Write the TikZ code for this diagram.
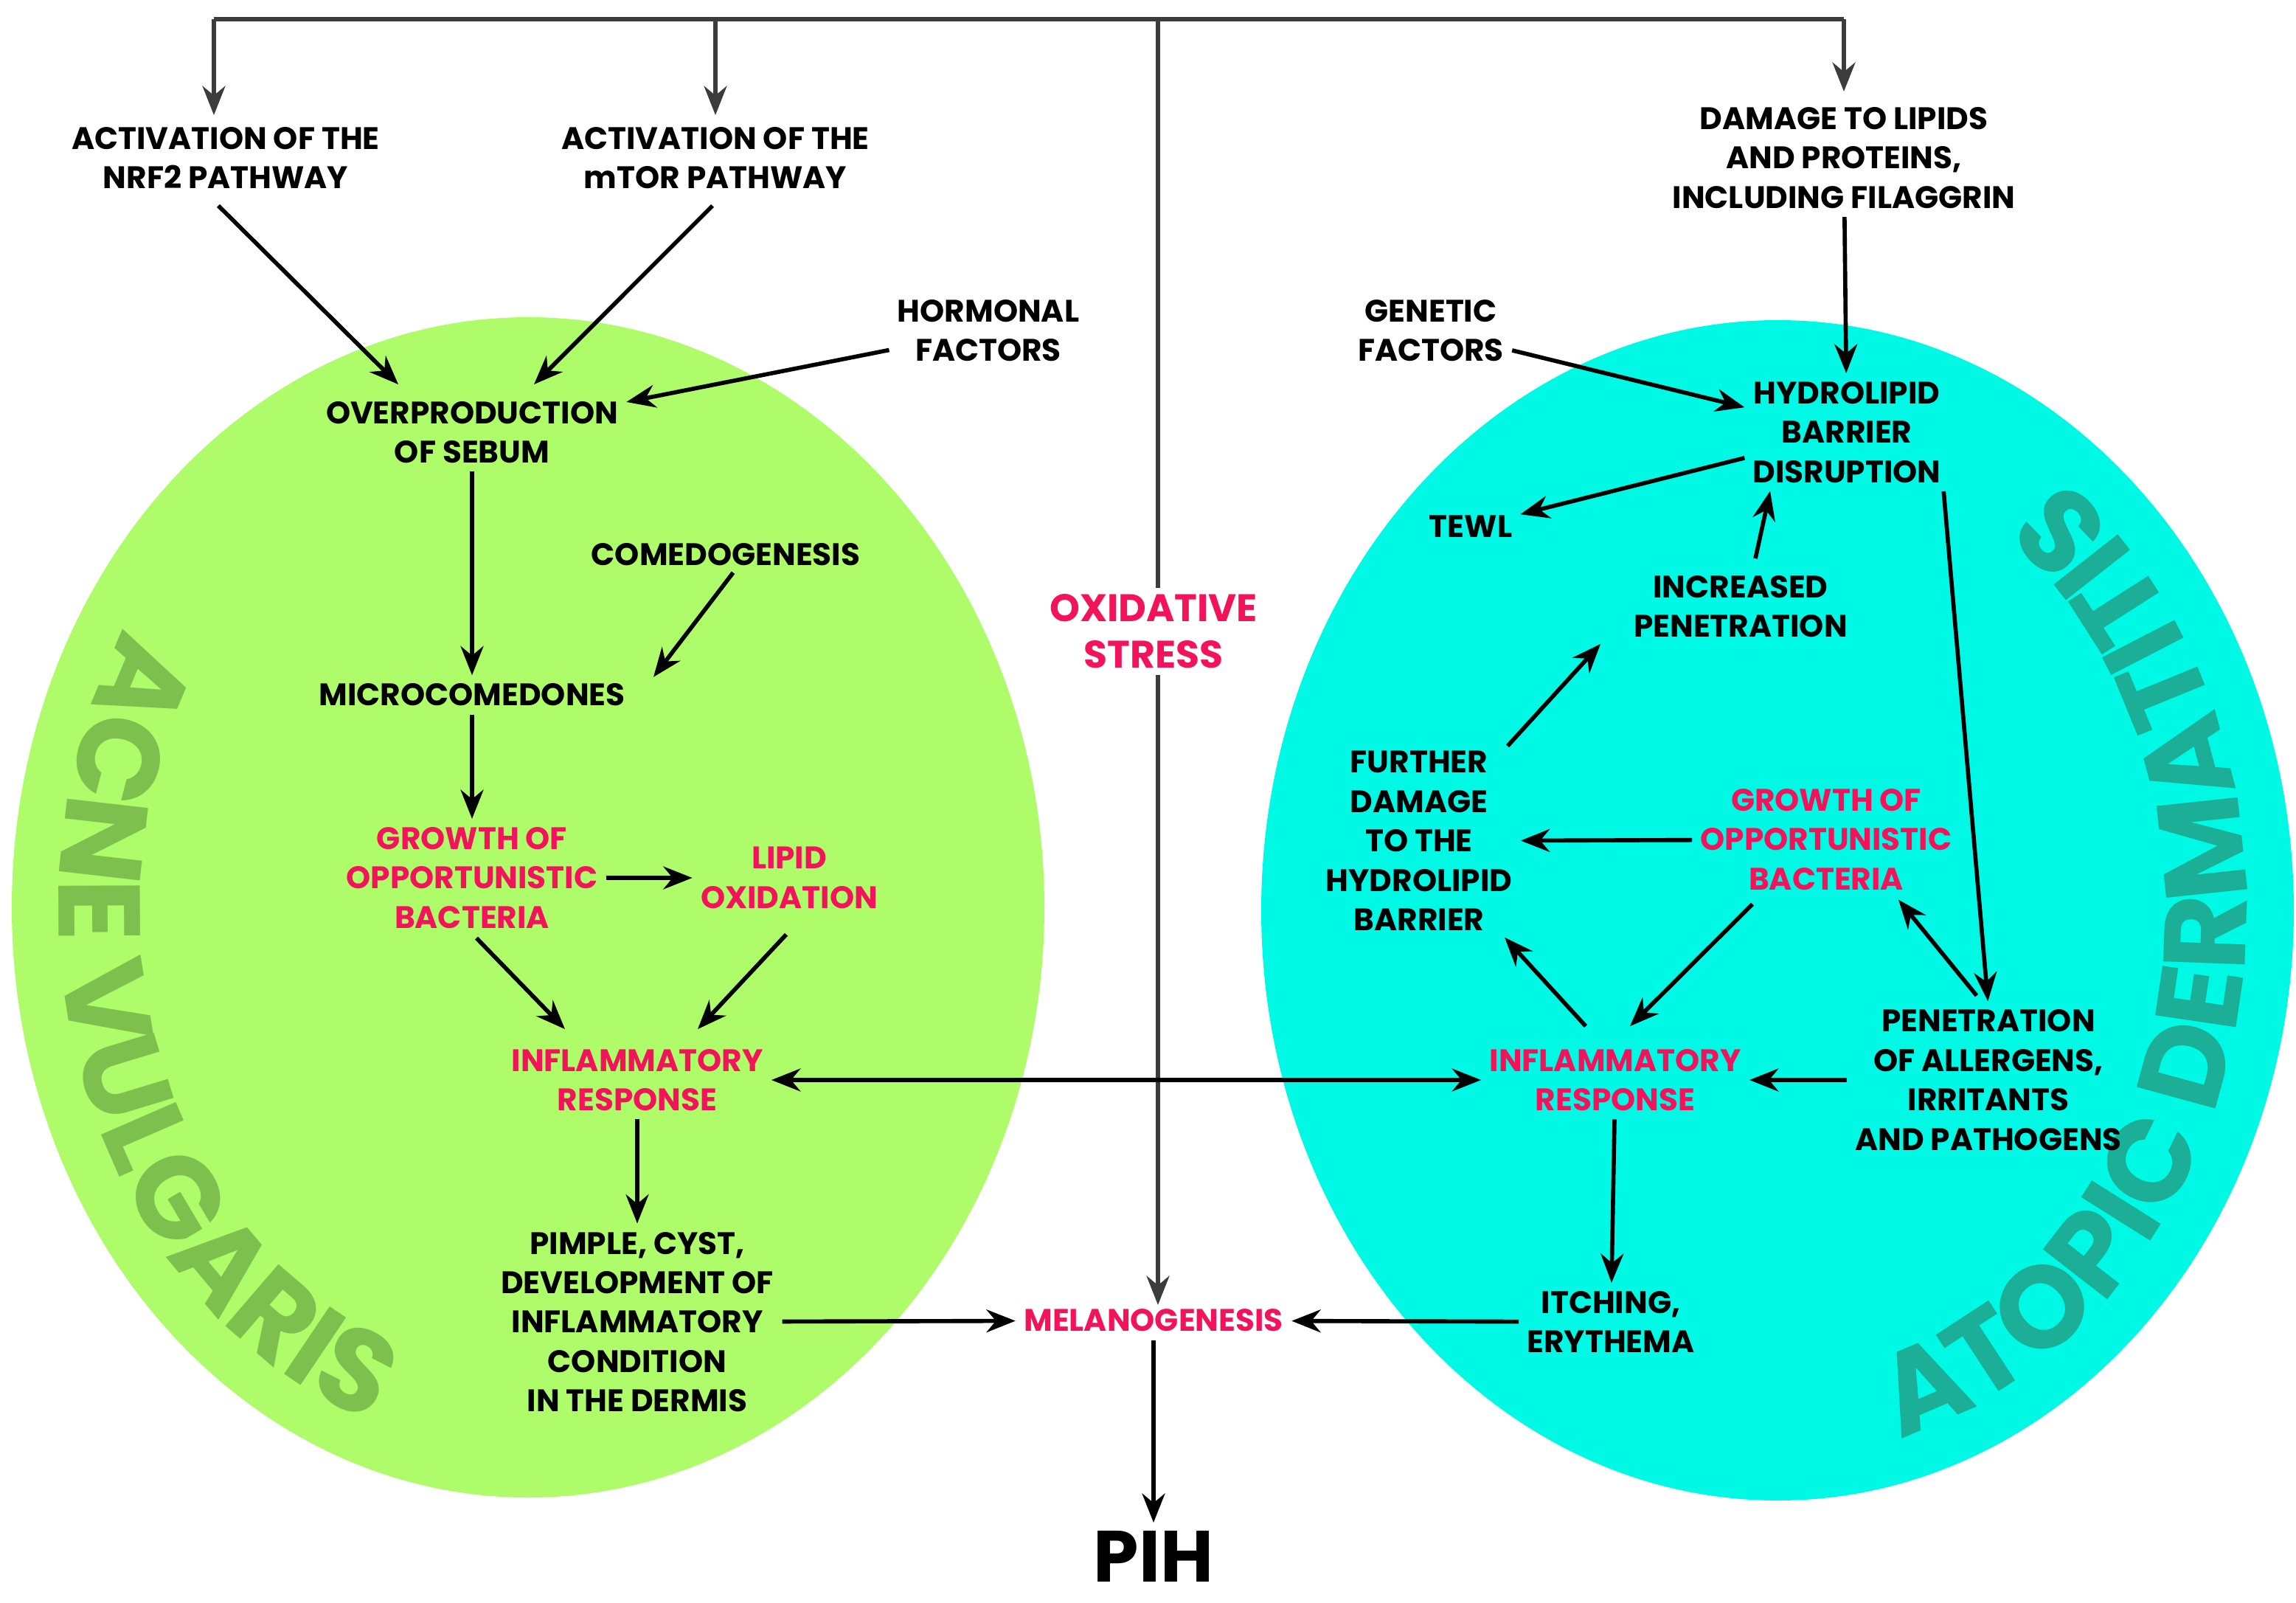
\documentclass[tikz,border=0pt]{standalone}
\usepackage{fontspec}
\setmainfont{Poppins}
\usetikzlibrary{arrows.meta,decorations.text}
\definecolor{grn}{HTML}{AEFC6A}
\definecolor{cyn}{HTML}{00F9E4}
\definecolor{grnT}{HTML}{7DC04E}
\definecolor{cynT}{HTML}{1BAF98}
\definecolor{rd}{HTML}{F2135A}
\definecolor{gl}{HTML}{3C3C3C}
\begin{document}
\begin{tikzpicture}[x=0.05cm,y=-0.05cm,
  t/.style={align=center,font=\bfseries\fontsize{30}{38}\selectfont,inner sep=2pt},
  r/.style={t,text=rd},
  ar/.style={line width=4pt,-{Stealth[length=28pt,width=22pt]},shorten >=6pt,shorten <=6pt},
  ex/.style={ar,shorten >=0pt,shorten <=0pt},
  gar/.style={ar,draw=gl}]
\useasboundingbox (0,0) rectangle (1556.5,1086);
\fill[grn] (358,615) ellipse [x radius=350,y radius=400];
\fill[cyn] (1205,617) ellipse [x radius=350,y radius=400];
\path[decorate,decoration={text along path,text align=center,text format delimiters={|}{|},
  text={|\bfseries\fontsize{112}{112}\selectfont\color{grnT}|ACNE VULGARIS}}]
  (358,615) ++(145:318 and -370) arc[start angle=145,end angle=255,x radius=318,y radius=-370];
\path[decorate,decoration={text along path,text align=center,text format delimiters={|}{|},
  text={|\bfseries\fontsize{112}{112}\selectfont\color{cynT}|ATOPIC DERMATITIS}}]
  (1205,617) ++(-85:318 and -370) arc[start angle=-85,end angle=62,x radius=318,y radius=-370];
% top distribution line
\coordinate (tl) at (145,13); \coordinate (tr) at (1250,13);
\coordinate (tm) at (785,13); \coordinate (tb) at (485,13);
\coordinate (an) at (145,78); \coordinate (am) at (485,78); \coordinate (ad) at (1250,62);
\draw[line width=4pt,gl] (tl) -- (tr);
\draw[gar,shorten <=0pt,shorten >=0pt] (tl) -- (an);
\draw[gar,shorten <=0pt,shorten >=0pt] (tb) -- (am);
\draw[gar,shorten <=0pt,shorten >=0pt] (tr) -- (ad);
\node[t] (nrf2) at (153,107) {ACTIVATION OF THE\\NRF2 PATHWAY};
\node[t] (mtor) at (485,107) {ACTIVATION OF THE\\mTOR PATHWAY};
\node[t] (dmg) at (1250,107) {DAMAGE TO LIPIDS\\AND PROTEINS,\\INCLUDING FILAGGRIN};
\node[t] (horm) at (670,224) {HORMONAL\\FACTORS};
\node[t] (gen) at (970,224) {GENETIC\\FACTORS};
\node[t] (sebum) at (320,293) {OVERPRODUCTION\\OF SEBUM};
\node[t] (hydro) at (1252,293) {HYDROLIPID\\BARRIER\\DISRUPTION};
\node[t] (tewl) at (997,357) {TEWL};
\node[t] (comedo) at (492,376) {COMEDOGENESIS};
\node[t] (incpen) at (1180,411) {INCREASED\\PENETRATION};
\node[t] (micro) at (320,471) {MICROCOMEDONES};
\node[r] (growL) at (320,595) {GROWTH OF\\OPPORTUNISTIC\\BACTERIA};
\node[r] (lipid) at (535,595) {LIPID\\OXIDATION};
\node[t] (further) at (962,570) {FURTHER\\DAMAGE\\TO THE\\HYDROLIPID\\BARRIER};
\node[r] (growR) at (1238,569) {GROWTH OF\\OPPORTUNISTIC\\BACTERIA};
\node[r] (inflL) at (432,732) {INFLAMMATORY\\RESPONSE};
\node[r] (inflR) at (1095,732) {INFLAMMATORY\\RESPONSE};
\node[t] (pen) at (1348,732) {PENETRATION\\OF ALLERGENS,\\IRRITANTS\\AND PATHOGENS};
\node[t] (pimple) at (432,896) {PIMPLE, CYST,\\DEVELOPMENT OF\\INFLAMMATORY\\CONDITION\\IN THE DERMIS};
\node[r] (mel) at (782,895) {MELANOGENESIS};
\node[t] (itch) at (1092,896) {ITCHING,\\ERYTHEMA};
\node[t,font=\bfseries\fontsize{70}{70}\selectfont] (pih) at (782,1055) {PIH};
% oxidative stress vertical
\draw[gar,shorten <=0pt,shorten >=2pt] (tm) -- (mel.north-|tm);
\node[r,font=\bfseries\fontsize{37}{45}\selectfont,fill=white,inner sep=6pt] (ox) at (782,428) {OXIDATIVE\\STRESS};
% acne arrows
\draw[ex] ([shift={(-5,10)}]nrf2.south) -- ([shift={(-50,-10)}]sebum.north);
\draw[ex] ([shift={(-2,10)}]mtor.south) -- ([shift={(42,-10)}]sebum.north);
\draw[ar] (horm) -- (sebum);
\draw[ar] (sebum) -- (micro);
\draw[ex] ([shift={(5,3)}]comedo.south) -- ([shift={(123,-3)}]micro.north);
\draw[ar] (micro) -- (growL);
\draw[ar] (growL) -- (lipid);
\draw[ex] ([shift={(3,5)}]growL.south) -- ([shift={(-49,-12)}]inflL.north);
\draw[ex] ([shift={(-2,16)}]lipid.south) -- ([shift={(41,-12)}]inflL.north);
\draw[ar,{Stealth[length=28pt,width=22pt]}-{Stealth[length=28pt,width=22pt]}] (inflL) -- (inflR);
\draw[ar] (inflL) -- (pimple);
\draw[ar] (pimple) -- (mel);
\draw[ar] (itch) -- (mel);
\draw[ar] (mel) -- (pih);
% AD arrows
\draw[ar] (dmg) -- (hydro);
\draw[ar] (gen) -- (hydro);
\draw[ar] (hydro) -- (tewl);
\draw[ex] ([shift={(10,-10)}]incpen.north) -- ([shift={(-52,4)}]hydro.south);
\draw[ex] ([shift={(60,-2)}]further.north) -- ([shift={(-95,3)}]incpen.south);
\draw[ar] (growR) -- (further);
\draw[ex] ([shift={(-20,-14)}]inflR.north) -- ([shift={(58,3)}]further.south);
\draw[ex] ([shift={(-50,8)}]growR.south) -- ([shift={(10,-14)}]inflR.north);
\draw[ex] ([shift={(-8,-8)}]pen.north) -- ([shift={(49,5)}]growR.south);
\draw[ar] (pen) -- (inflR);
\draw[ar] (hydro.south east) -- (pen.north);
\draw[ar] (inflR) -- (itch);
\end{tikzpicture}
\end{document}
